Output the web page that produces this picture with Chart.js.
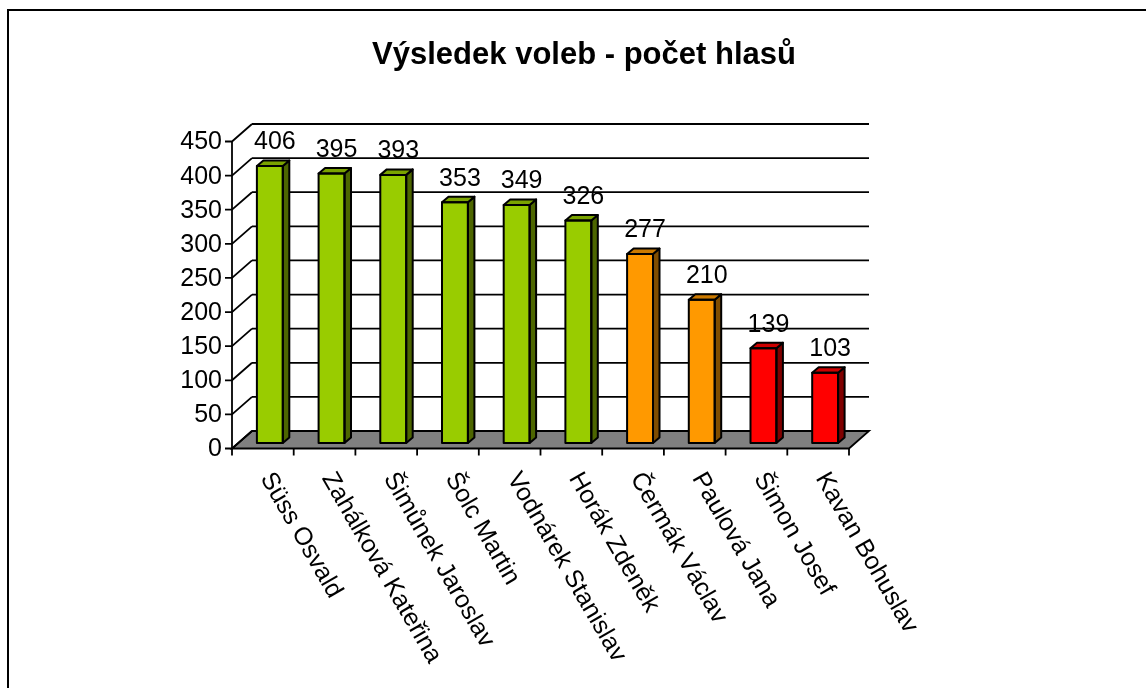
<!DOCTYPE html>
<html lang="cs">
<head>
<meta charset="UTF-8">
<title>Výsledek voleb</title>
<style>
    html, body { margin: 0; padding: 0; background: #fff; overflow: hidden; }
    #frame { position: absolute; left: 7px; top: 9px; width: 1400px; height: 900px; border: 2px solid #000; }
    #chart { position: absolute; left: 0; top: 0; }
</style>
</head>
<body>
<div id="frame"></div>
<canvas id="chart" width="1146" height="688"></canvas>

<script src="https://cdn.jsdelivr.net/npm/chart.js"></script>
<script>
    // data
    const categories = ['Süss Osvald', 'Zahálková Kateřina', 'Šimůnek Jaroslav', 'Šolc Martin', 'Vodnárek Stanislav',
        'Horák Zdeněk', 'Čermák Václav', 'Paulová Jana', 'Šimon Josef', 'Kavan Bohuslav'];
    const votes = [406, 395, 393, 353, 349, 326, 277, 210, 139, 103];
    const yTicks = [0, 50, 100, 150, 200, 250, 300, 350, 400, 450];
    const titleText = 'Výsledek voleb - počet hlasů';

    // colours per bar: face / side / top
    const faceColors = ['#99CC00', '#99CC00', '#99CC00', '#99CC00', '#99CC00', '#99CC00', '#FF9900', '#FF9900', '#FF0000', '#FF0000'];
    const sideColors = { '#99CC00': '#4D6600', '#FF9900': '#804D00', '#FF0000': '#800000' };
    const topColors = { '#99CC00': '#7AA300', '#FF9900': '#CC7A00', '#FF0000': '#CC0000' };

    const FONT = '"Liberation Sans", Arial, sans-serif';
    // depth offsets relative to the bar front plane
    const FRONT = { dx: -7, dy: 5.5 };
    const BACK = { dx: 13, dy: -12 };
    const BAR_DEPTH = { dx: 6.5, dy: -5.5 };

    function poly(ctx, pts, fill) {
        ctx.beginPath();
        ctx.moveTo(pts[0][0], pts[0][1]);
        for (let i = 1; i < pts.length; i++) ctx.lineTo(pts[i][0], pts[i][1]);
        ctx.closePath();
        if (fill) { ctx.fillStyle = fill; ctx.fill(); }
        ctx.stroke();
    }

    const wallsPlugin = {
        id: 'walls',
        beforeDatasetsDraw(chart) {
            const ctx = chart.ctx;
            const area = chart.chartArea;
            const xs = chart.scales.x;
            const ys = chart.scales.y;
            const y0 = ys.getPixelForValue(0);
            ctx.save();

            // title
            ctx.fillStyle = '#000';
            ctx.font = 'bold 31px ' + FONT;
            ctx.textAlign = 'center';
            ctx.textBaseline = 'middle';
            ctx.fillText(titleText, 584, 55);

            ctx.strokeStyle = '#000';
            ctx.lineWidth = 1.8;

            // back wall grid lines
            yTicks.forEach(t => {
                const yy = ys.getPixelForValue(t) + BACK.dy;
                ctx.beginPath();
                ctx.moveTo(area.left + BACK.dx, yy);
                ctx.lineTo(area.right + BACK.dx, yy);
                ctx.stroke();
            });

            // floor
            poly(ctx, [
                [area.left + FRONT.dx, y0 + FRONT.dy],
                [area.right + FRONT.dx, y0 + FRONT.dy],
                [area.right + BACK.dx, y0 + BACK.dy],
                [area.left + BACK.dx, y0 + BACK.dy]
            ], '#808080');

            // left wall diagonals, y axis, ticks, labels
            const ax = area.left + FRONT.dx;
            ctx.beginPath();
            ctx.moveTo(ax, ys.getPixelForValue(0) + FRONT.dy);
            ctx.lineTo(ax, ys.getPixelForValue(450) + FRONT.dy);
            ctx.stroke();
            ctx.fillStyle = '#000';
            ctx.font = '25px ' + FONT;
            ctx.textAlign = 'right';
            ctx.textBaseline = 'middle';
            yTicks.forEach(t => {
                const yf = ys.getPixelForValue(t) + FRONT.dy;
                const yb = ys.getPixelForValue(t) + BACK.dy;
                ctx.beginPath();
                ctx.moveTo(ax - 7, yf);
                ctx.lineTo(ax, yf);
                ctx.lineTo(area.left + BACK.dx, yb);
                ctx.stroke();
                ctx.fillText(String(t), ax - 10, yf + 1);
            });

            // x axis ticks
            const step = area.width / categories.length;
            for (let i = 0; i <= categories.length; i++) {
                const xx = area.left + i * step + FRONT.dx;
                ctx.beginPath();
                ctx.moveTo(xx, y0 + FRONT.dy);
                ctx.lineTo(xx, y0 + FRONT.dy + 7);
                ctx.stroke();
            }

            // x labels, rotated
            ctx.textAlign = 'left';
            ctx.textBaseline = 'middle';
            categories.forEach((c, i) => {
                const cx = xs.getPixelForValue(i) + FRONT.dx;
                ctx.save();
                ctx.translate(cx + 3, y0 + FRONT.dy + 26);
                ctx.rotate(60 * Math.PI / 180);
                ctx.fillText(c, 0, 0);
                ctx.restore();
            });
            ctx.restore();
        },
        afterDatasetsDraw(chart) {
            const ctx = chart.ctx;
            const meta = chart.getDatasetMeta(0);
            ctx.save();
            ctx.strokeStyle = '#000';
            ctx.lineWidth = 2;
            ctx.lineJoin = 'round';
            meta.data.forEach((bar, i) => {
                const p = bar.getProps(['x', 'y', 'base', 'width'], true);
                const l = p.x - p.width / 2;
                const r = p.x + p.width / 2;
                const face = faceColors[i];
                poly(ctx, [[r, p.y], [r + BAR_DEPTH.dx, p.y + BAR_DEPTH.dy], [r + BAR_DEPTH.dx, p.base + BAR_DEPTH.dy], [r, p.base]], sideColors[face]);
                poly(ctx, [[l, p.y], [l + BAR_DEPTH.dx, p.y + BAR_DEPTH.dy], [r + BAR_DEPTH.dx, p.y + BAR_DEPTH.dy], [r, p.y]], topColors[face]);
                ctx.strokeRect(l, p.y, p.width, p.base - p.y);

                ctx.fillStyle = '#000';
                ctx.font = '25px ' + FONT;
                ctx.textAlign = 'center';
                ctx.textBaseline = 'bottom';
                ctx.fillText(String(votes[i]), p.x + 5, p.y - 11);
            });
            ctx.restore();
        }
    };

    new Chart(document.getElementById('chart'), {
        type: 'bar',
        data: {
            labels: categories,
            datasets: [{
                label: 'Počet hlasů',
                data: votes,
                backgroundColor: faceColors,
                borderWidth: 0,
                barPercentage: 0.42,
                categoryPercentage: 1
            }]
        },
        options: {
            responsive: false,
            animation: false,
            layout: { padding: { left: 239, top: 136, right: 290, bottom: 245 } },
            plugins: {
                legend: { display: false },
                tooltip: { enabled: false },
                title: { display: false }
            },
            scales: {
                x: { display: false },
                y: { display: false, min: 0, max: 450 }
            }
        },
        plugins: [wallsPlugin]
    });
</script>
</body>
</html>
